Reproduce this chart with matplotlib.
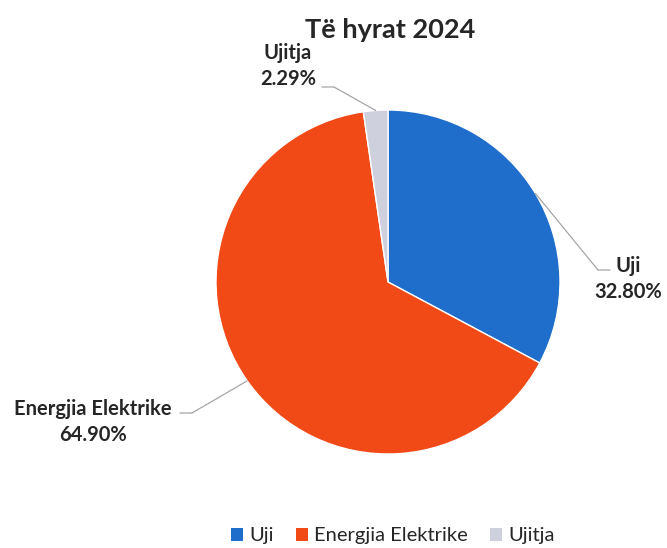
import numpy as np
import matplotlib
matplotlib.use("Agg")
from matplotlib import pyplot as plt
from matplotlib.patches import Patch

# Data
categories = ["Uji", "Energjia Elektrike", "Ujitja"]
shares = [32.80, 64.90, 2.29]
colors = ["#1f6ecb", "#f24a17", "#cfd0de"]

plt.rcParams['font.family'] = ['Lato', 'DejaVu Sans']

W, H = 667, 548
fig = plt.figure(figsize=(W / 100, H / 100), dpi=100)

# pie axes: centre (388, 282), radius 172 px
cx, cy, r = 388, 282, 172
ax = fig.add_axes([(cx - r) / W, 1 - (cy + r) / H, 2 * r / W, 2 * r / H])

wedges, _ = ax.pie(
    shares,
    colors=colors,
    startangle=90,
    counterclock=False,
    radius=1,
    wedgeprops=dict(edgecolor="white", linewidth=1),
)
ax.set_xlim(-1, 1)
ax.set_ylim(-1, 1)
ax.set_aspect("equal")

# Labels: text centre, elbow start/end (pixels)
label_layout = {
    "Uji": ((628, 279), (610, 270), (598, 270)),
    "Energjia Elektrike": ((93, 422), (180, 413), (192, 413)),
    "Ujitja": ((288, 66), (322, 87), (334, 87)),
}

def px(p):
    return (p[0] / W, 1 - p[1] / H)

for w, name, val in zip(wedges, categories, shares):
    (tpos, e1, e2) = label_layout[name]
    ang = np.deg2rad((w.theta1 + w.theta2) / 2)
    edge = (np.cos(ang), np.sin(ang))
    fig.text(*px(tpos), f"{name}\n{val:.2f}%", ha="center", va="center",
             fontsize=14.5, fontweight="bold", color="#262626", linespacing=1.35)
    ax.annotate("", xy=edge, xytext=px(e2), textcoords="figure fraction",
                arrowprops=dict(arrowstyle="-", color="#a6a6a6", lw=0.9,
                                shrinkA=0, shrinkB=0))
    ax.annotate("", xy=px(e1), xycoords="figure fraction",
                xytext=px(e2), textcoords="figure fraction",
                arrowprops=dict(arrowstyle="-", color="#a6a6a6", lw=0.9,
                                shrinkA=0, shrinkB=0))

# Title
fig.text(390 / W, 1 - 30 / H, "Të hyrat 2024", ha="center", va="center",
         fontsize=19.5, fontweight="bold", color="#262626")

# Legend
handles = [Patch(facecolor=c, edgecolor="none") for c in colors]
fig.legend(handles, categories, loc="center", bbox_to_anchor=(393 / W, 1 - 536 / H),
           ncol=3, frameon=False, fontsize=14.5, handlelength=0.6, handleheight=0.6,
           handletextpad=0.3, columnspacing=1.1, labelcolor="#262626")

fig.savefig("out.png", dpi=100)
